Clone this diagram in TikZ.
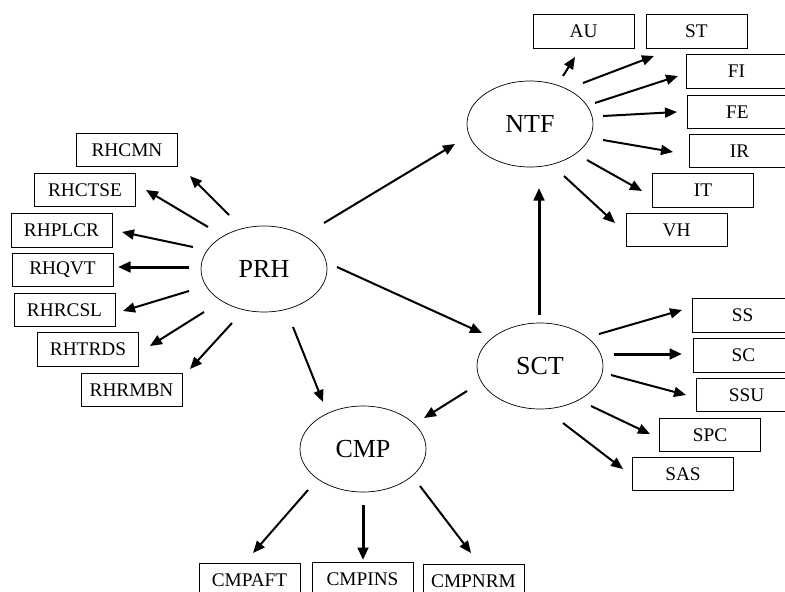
\documentclass[tikz,border=0pt]{standalone}
\usepackage{fontspec}
\setmainfont{Liberation Serif}
\usetikzlibrary{shapes.geometric,arrows.meta}
\begin{document}
\begin{tikzpicture}[x=1pt,y=-1pt,
  hub/.style={draw,ellipse,line width=0.7pt,minimum width=126pt,minimum height=86pt,inner sep=0pt,font=\fontsize{26}{28}\selectfont},
  leaf/.style={draw,rectangle,line width=0.8pt,minimum width=101pt,minimum height=33.5pt,inner sep=0pt,font=\fontsize{19.3}{21}\selectfont},
  arr/.style={line width=2pt,-{Triangle[length=12pt,width=10pt]}},
  thickarr/.style={line width=3pt,-{Triangle[length=12.5pt,width=10.5pt]}}]
\useasboundingbox (0,0) rectangle (785,592);

% central ellipses
\node[hub] (prh) at (264,269) {PRH};
\node[hub] (ntf) at (530,124) {NTF};
\node[hub] (sct) at (540,366) {SCT};
\node[hub] (cmp) at (363,449) {CMP};

% PRH leaves
\node[leaf] (rhcmn)  at (127,150)   {RHCMN};
\node[leaf] (rhctse) at (85,190)    {RHCTSE};
\node[leaf] (rhplcr) at (61.5,230.5){RHPLCR};
\node[leaf] (rhqvt)  at (62.5,270)  {RHQVT};
\node[leaf] (rhrcsl) at (64.5,310)  {RHRCSL};
\node[leaf] (rhtrds) at (88,349.5)  {RHTRDS};
\node[leaf] (rhrmbn) at (131.5,390) {RHRMBN};

% NTF leaves
\node[leaf] (au) at (583.5,31.5) {AU};
\node[leaf] (st) at (696.5,31.5) {ST};
\node[leaf] (fi) at (736.5,71.5) {FI};
\node[leaf] (fe) at (737.5,112)  {FE};
\node[leaf] (ir) at (739.5,151)  {IR};
\node[leaf] (it) at (703,190.5)  {IT};
\node[leaf] (vh) at (676.5,230)  {VH};

% SCT leaves
\node[leaf] (ss)  at (742.5,315.5) {SS};
\node[leaf] (sc)  at (743.5,355.5) {SC};
\node[leaf] (ssu) at (746.5,395)   {SSU};
\node[leaf] (spc) at (710,435)     {SPC};
\node[leaf] (sas) at (683,474)     {SAS};

% CMP leaves
\node[leaf] (cmpaft) at (249.5,580) {CMPAFT};
\node[leaf] (cmpins) at (362.5,579) {CMPINS};
\node[leaf] (cmpnrm) at (473.5,581) {CMPNRM};

% arrow tails and tips
\coordinate (t1) at (229,215); \coordinate (h1) at (190,176);
\coordinate (t2) at (208,227); \coordinate (h2) at (146,190);
\coordinate (t3) at (193,247); \coordinate (h3) at (122,232);
\coordinate (t4) at (189,267); \coordinate (h4) at (118,267);
\coordinate (t5) at (189,291); \coordinate (h5) at (123,311);
\coordinate (t6) at (204,312); \coordinate (h6) at (150,346);
\coordinate (t7) at (232,323); \coordinate (h7) at (190,369);

\coordinate (tpc) at (293,327); \coordinate (hpc) at (323,402);
\coordinate (tpn) at (324,223); \coordinate (hpn) at (455,144);
\coordinate (tps) at (337,267); \coordinate (hps) at (482,333);
\coordinate (tsn) at (539,315); \coordinate (hsn) at (539,188);
\coordinate (tsc) at (467,391); \coordinate (hsc) at (424,418);

\coordinate (n1t) at (563,76);  \coordinate (n1h) at (575,57);
\coordinate (n2t) at (583,83);  \coordinate (n2h) at (654,56);
\coordinate (n3t) at (595,103); \coordinate (n3h) at (678,76);
\coordinate (n4t) at (603,116); \coordinate (n4h) at (677,112);
\coordinate (n5t) at (603,140); \coordinate (n5h) at (673,152);
\coordinate (n6t) at (587,160); \coordinate (n6h) at (642,191);
\coordinate (n7t) at (564,176); \coordinate (n7h) at (615,223);

\coordinate (s1t) at (599,334); \coordinate (s1h) at (682,310);
\coordinate (s2t) at (614,354); \coordinate (s2h) at (682,354);
\coordinate (s3t) at (611,375); \coordinate (s3h) at (686,395);
\coordinate (s4t) at (591,406); \coordinate (s4h) at (650,434);
\coordinate (s5t) at (563,423); \coordinate (s5h) at (623,469);

\coordinate (c1t) at (308,490); \coordinate (c1h) at (253,553);
\coordinate (c2t) at (363,505); \coordinate (c2h) at (363,560);
\coordinate (c3t) at (420,486); \coordinate (c3h) at (471,553);

% PRH fan
\draw[arr] (t1) -- (h1);
\draw[arr] (t2) -- (h2);
\draw[arr] (t3) -- (h3);
\draw[thickarr] (t4) -- (h4);
\draw[arr] (t5) -- (h5);
\draw[arr] (t6) -- (h6);
\draw[arr] (t7) -- (h7);

% links between hubs
\draw[arr] (tpc) -- (hpc);
\draw[arr] (tpn) -- (hpn);
\draw[arr] (tps) -- (hps);
\draw[thickarr] (tsn) -- (hsn);
\draw[arr] (tsc) -- (hsc);

% NTF fan
\draw[arr] (n1t) -- (n1h);
\draw[arr] (n2t) -- (n2h);
\draw[arr] (n3t) -- (n3h);
\draw[arr] (n4t) -- (n4h);
\draw[arr] (n5t) -- (n5h);
\draw[arr] (n6t) -- (n6h);
\draw[arr] (n7t) -- (n7h);

% SCT fan
\draw[arr] (s1t) -- (s1h);
\draw[thickarr] (s2t) -- (s2h);
\draw[arr] (s3t) -- (s3h);
\draw[arr] (s4t) -- (s4h);
\draw[arr] (s5t) -- (s5h);

% CMP fan
\draw[arr] (c1t) -- (c1h);
\draw[thickarr] (c2t) -- (c2h);
\draw[arr] (c3t) -- (c3h);
\end{tikzpicture}
\end{document}
